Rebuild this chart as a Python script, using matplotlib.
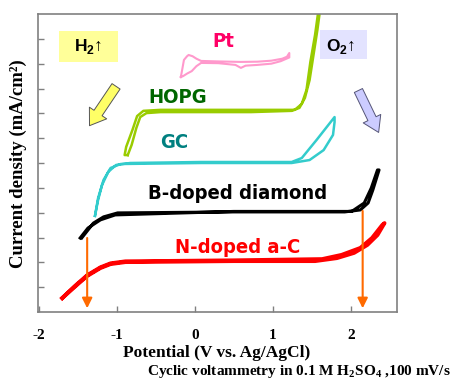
import matplotlib
matplotlib.use("Agg")
import matplotlib.pyplot as plt
from matplotlib.patches import Rectangle
from matplotlib import font_manager as fm

plt.rcParams["mathtext.fontset"] = "custom"
plt.rcParams["mathtext.rm"] = "Liberation Serif:bold"
plt.rcParams["mathtext.sf"] = "Liberation Sans:bold"

# ---- data (potential V vs Ag/AgCl, current density offset units) ----
pt_E = [-0.18, -0.16, -0.14, -0.10, -0.08, -0.03, 0.02, 0.08, 0.30, 0.59, 0.80, 0.98, 1.12, 1.18, 1.21,
        1.21, 1.10, 0.98, 0.80, 0.65, 0.59, 0.52, 0.30, 0.08, 0.02, -0.04, -0.10, -0.15, -0.18]
pt_j = [9.46, 9.80, 10.15, 10.30, 10.35, 10.30, 10.20, 10.11, 10.09, 10.07, 10.08, 10.12, 10.20, 10.28, 10.43,
        10.25, 10.10, 10.00, 9.95, 9.92, 9.83, 9.95, 10.02, 10.03, 9.90, 9.70, 9.60, 9.50, 9.46]

hopg_E = [-0.86, -0.81, -0.75, -0.70, -0.62, -0.44, 0.72, 1.24, 1.34, 1.41, 1.47, 1.52, 1.57, 1.61,
          1.59, 1.54, 1.48, 1.43, 1.37, 1.28, 0.72, -0.44, -0.66, -0.74, -0.80, -0.88, -0.90, -0.86]
hopg_j = [6.32, 6.73, 7.41, 7.85, 8.01, 8.05, 8.05, 8.10, 8.22, 8.62, 9.34, 10.35, 11.36, 12.30,
          12.30, 11.16, 10.07, 8.94, 8.38, 8.14, 8.14, 8.14, 8.10, 7.89, 7.33, 6.65, 6.32, 6.32]

gc_E = [-1.28, -1.24, -1.19, -1.11, -1.01, -0.83, 0.08, 1.24, 1.37, 1.56, 1.79,
        1.79, 1.77, 1.65, 1.47, 1.24, 0.08, -0.95, -1.08, -1.17, -1.24, -1.28]
gc_j = [3.87, 4.51, 5.11, 5.64, 5.92, 6.00, 6.04, 6.04, 6.20, 6.93, 7.85,
        7.65, 7.13, 6.52, 6.12, 6.00, 6.00, 5.96, 5.80, 5.32, 4.59, 3.87]

bdd_E = [-1.45, -1.30, -1.17, -0.99, 0.50, 1.92, 2.12, 2.22, 2.28, 2.36,
         2.34, 2.26, 2.17, 2.01, 0.50, -1.02, -1.21, -1.37, -1.47]
bdd_j = [2.98, 3.58, 3.83, 3.99, 4.03, 4.03, 4.11, 4.39, 4.91, 5.72,
         5.72, 4.99, 4.39, 4.05, 4.05, 3.91, 3.71, 3.38, 2.98]

nac_E = [-1.70, -1.54, -1.38, -1.21, -1.08, -0.89, 0.50, 1.54, 1.82, 2.04, 2.21, 2.34, 2.43,
         2.40, 2.27, 2.12, 1.88, 1.63, 0.50, -0.89, -1.08, -1.21, -1.38, -1.54, -1.70]
nac_j = [0.56, 1.01, 1.45, 1.77, 1.93, 2.01, 2.05, 2.05, 2.17, 2.38, 2.70, 3.10, 3.58,
         3.50, 2.98, 2.58, 2.30, 2.13, 2.08, 2.04, 1.96, 1.80, 1.48, 1.04, 0.56]

x_ticks = [-2, -1, 0, 1, 2]
x_tick_labels = ["-2", "-1", "0", "1", "2"]
y_ticks = list(range(1, 12))

curve_labels = ["Pt", "HOPG", "GC", "B-doped diamond", "N-doped a-C"]
label_pos = [(0.36, 10.91), (-0.22, 8.62), (-0.27, 6.81), (0.55, 4.79), (0.55, 2.58)]
label_colors = ["#ff0066", "#006600", "#008080", "#000000", "#ff0000"]

limit_E = [-1.38, 2.15]
limit_top = [2.98, 4.07]

# pick a condensed bold sans if available
narrow = None
for f in fm.fontManager.ttflist:
    if "Narrow" in f.name or (f.name == "DejaVu Sans" and f.stretch == "condensed"):
        narrow = f
        break
if narrow is not None:
    label_font = dict(family=[narrow.name, "DejaVu Sans"], fontstretch=narrow.stretch)
else:
    label_font = dict(family=["Liberation Sans", "DejaVu Sans"])

# ---- figure ----
fig = plt.figure(figsize=(4.55, 3.80), dpi=100)
ax = fig.add_axes([38/455, 1-312/380, (397-38)/455, (312-14)/380])
ax.set_xlim(-2.01, 2.59)
ax.set_ylim(0, 12)

ax.plot(pt_E, pt_j, color="#ff99cc", lw=1.5, solid_joinstyle="round")
ax.plot(hopg_E, hopg_j, color="#99cc00", lw=1.8, solid_joinstyle="round")
ax.plot(gc_E, gc_j, color="#33cccc", lw=1.8, solid_joinstyle="round")
ax.plot(bdd_E, bdd_j, color="#000000", lw=2.2, solid_joinstyle="round")
ax.plot(nac_E, nac_j, color="#ff0000", lw=2.8, solid_joinstyle="round")

for t, (x, y), c in zip(curve_labels, label_pos, label_colors):
    ax.text(x, y, t, color=c, fontsize=14.5, fontweight="bold", ha="center", va="center", **label_font)

# gas-evolution boxes
ax.add_patch(Rectangle((-1.74, 10.07), 0.75, 1.25, facecolor="#ffff99", edgecolor="none", zorder=1))
ax.text(-1.37, 10.68, "H$_\\mathsf{2}$\u2191", fontsize=12.5, family=["Liberation Sans", "DejaVu Sans"],
        fontweight="bold", ha="center", va="center", zorder=3)
ax.add_patch(Rectangle((1.60, 10.19), 0.61, 1.17, facecolor="#e3e3ff", edgecolor="none", zorder=1))
ax.text(1.87, 10.70, "O$_\\mathsf{2}$\u2191", fontsize=12.5, family=["Liberation Sans", "DejaVu Sans"],
        fontweight="bold", ha="center", va="center", zorder=3)

# big arrows
ax.annotate("", xy=(-1.37, 7.41), xytext=(-0.99, 9.18),
            arrowprops=dict(arrowstyle="simple,head_length=1.1,head_width=1.5,tail_width=0.7",
                            mutation_scale=10, fc="#ffff66", ec="#555555", lw=0.7))
ax.annotate("", xy=(2.37, 7.13), xytext=(2.08, 9.02),
            arrowprops=dict(arrowstyle="simple,head_length=1.1,head_width=1.4,tail_width=0.65",
                            mutation_scale=10, fc="#ccccff", ec="#555577", lw=0.7))

# potential window arrows
for xe, yt in zip(limit_E, limit_top):
    ax.annotate("", xy=(xe, 0.15), xytext=(xe, yt),
                arrowprops=dict(arrowstyle="-|>,head_length=0.6,head_width=0.3",
                                mutation_scale=10, color="#ff6a00", lw=1.5, shrinkA=0, shrinkB=0))

# axes styling
for s in ax.spines.values():
    s.set_color("#808080")
    s.set_linewidth(1.2)
serif = ["Liberation Serif", "DejaVu Serif"]
ax.set_xticks(x_ticks)
ax.set_xticklabels(x_tick_labels, family=serif, fontweight="bold", fontsize=11)
ax.set_yticks(y_ticks)
ax.set_yticklabels([])
ax.tick_params(axis="both", direction="in", length=4, color="#808080", width=1)
ax.tick_params(axis="x", pad=12)

fig.text(217/455, 1-357/380, "Potential (V vs. Ag/AgCl)", ha="center", va="baseline",
         family=serif, fontweight="bold", fontsize=12.5)
fig.text(18/455, 1-164/380, "Current density (mA/cm\u00b2)", rotation=90, ha="center", va="center",
         family=serif, fontweight="bold", fontsize=13.5)
fig.text(451/455, 1-374.5/380, "Cyclic voltammetry in 0.1 M H$_2$SO$_4$ ,100 mV/s", ha="right", va="baseline",
         family=serif, fontweight="bold", fontsize=11)

fig.savefig("out.png", dpi=100)
